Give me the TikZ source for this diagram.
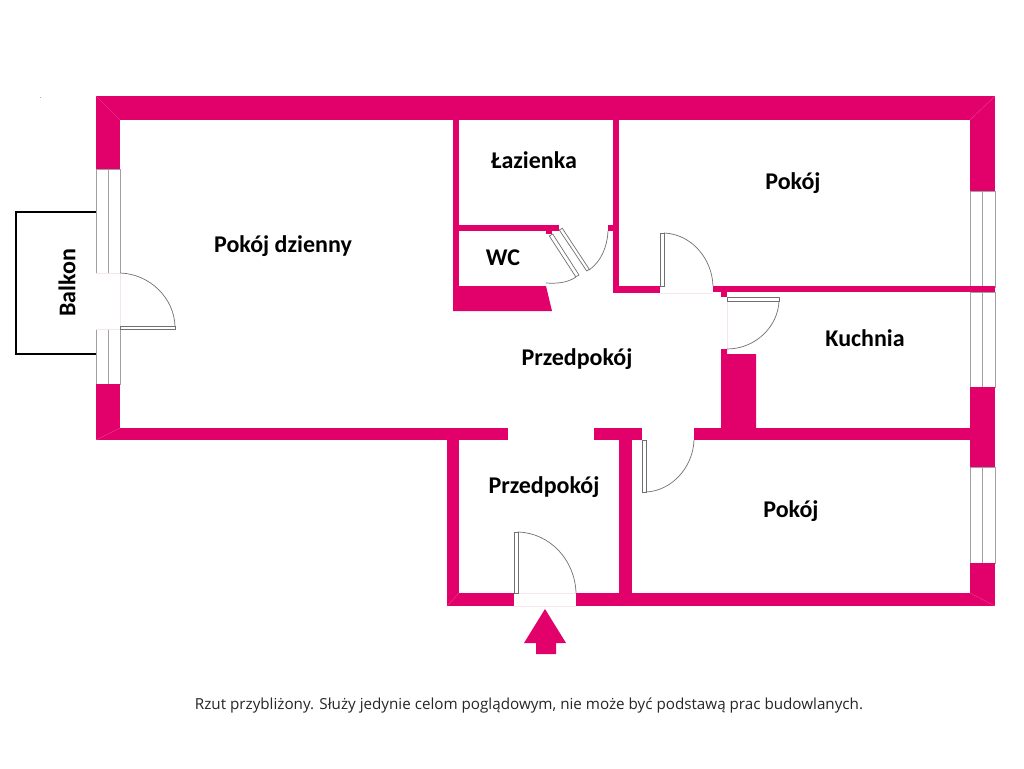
\documentclass[tikz,border=0pt]{standalone}
\usepackage{fontspec}
\setmainfont{Carlito}
\newfontfamily\capfont{Open Sans}
\definecolor{wallc}{HTML}{E2006A}
\definecolor{mitre}{HTML}{EE4A92}
\definecolor{winc}{HTML}{A0A0A0}
\definecolor{doorc}{HTML}{707070}
\definecolor{sillc}{HTML}{F3E6EC}
\tikzset{
  wall/.style={fill=wallc,draw=none},
  mitreline/.style={draw=mitre,line width=0.3pt},
  winline/.style={draw=winc,line width=1pt},
  doorline/.style={draw=doorc,line width=0.7pt,fill=white},
  swing/.style={draw=doorc,line width=0.7pt},
  sill/.style={draw=sillc,line width=0.5pt},
  balc/.style={draw=black,line width=2pt,line cap=round,line join=miter},
  room/.style={font=\fontsize{24}{28}\selectfont\bfseries,text=black,inner sep=0pt},
  capt/.style={font=\capfont\fontsize{15.2}{18}\selectfont,text=black!85,inner sep=0pt}
}
\begin{document}
\begin{tikzpicture}[x=1pt,y=-1pt]
\useasboundingbox (0,0) rectangle (1024,768);
\fill[white] (0,0) rectangle (1024,768);
% speck
\fill[gray] (40.5,97.5) circle (0.4);
% balcony
\draw[balc] (96,212) -- (16,212) -- (16,354) -- (96,354);
% windows
\foreach \xa/\ya/\xb/\yb in {96/169/120/273, 96/329/120/384, 970/191/995/287, 970/292/995/387, 970/467/995/563}{
  \draw[winline] (\xa,\ya) rectangle (\xb,\yb);
  \draw[winline] ({(\xa+\xb)/2},\ya) -- ({(\xa+\xb)/2},\yb);
}
% walls
\fill[wall] (96,96) rectangle (995,120);
\fill[wall] (96,96) rectangle (120,169);
\fill[wall] (96,384) rectangle (120,440);
\fill[wall] (96,428) rectangle (508,440);
\fill[wall] (970,96) rectangle (995,191);
\fill[wall] (970,387) rectangle (995,467);
\fill[wall] (970,563) rectangle (995,606);
\fill[wall] (713,286) rectangle (995,292);
\fill[wall] (447,428) rectangle (459,606);
\fill[wall] (447,593) rectangle (514,606);
\fill[wall] (576,593) rectangle (995,606);
\fill[wall] (619,428) rectangle (632,595);
\fill[wall] (594,428) rectangle (642,440);
\fill[wall] (694,428) rectangle (970,440);
\fill[wall] (453,120) rectangle (459,311);
\fill[wall] (453,225) rectangle (559,231);
\fill[wall] (546,231) rectangle (552,234);
\fill[wall] (453,286) -- (546,286) -- (552,311) -- (453,311) -- cycle;
\fill[wall] (613,120) rectangle (619,293);
\fill[wall] (608,225) rectangle (613,231);
\fill[wall] (613,286) rectangle (660,293);
\fill[wall] (721,292) rectangle (727,297);
\fill[wall] (721,349) -- (727,349) -- (727,354) -- (756,354) -- (756,428) -- (721,428) -- cycle;
% mitres
\draw[mitreline] (96,96) -- (120,120);
\draw[mitreline] (995,96) -- (970,120);
\draw[mitreline] (96,440) -- (120,428);
\draw[mitreline] (995,606) -- (970,593);
\draw[mitreline] (447,606) -- (459,593);
% faint sills
\draw[sill] (96,273) -- (120,273) -- (120,329) -- (96,329);
\draw[sill] (660,293) -- (713,293);
\draw[sill] (727,297) -- (727,349);
\draw[sill] (514,593) -- (576,593);
\draw[sill] (514,606) -- (576,606);
% doors: left
\draw[doorline] (120,326) rectangle (175,329);
\draw[swing] (120,273) .. controls (150,274) and (174,298) .. (175,326);
% top room
\draw[doorline] (660,233) rectangle (664,286);
\draw[swing] (664,233) .. controls (691,234) and (712,258) .. (713,286);
% kitchen
\draw[doorline] (727,297) rectangle (779,301);
\draw[swing] (779,301) .. controls (778,327) and (755,349) .. (727,349);
% entrance
\draw[doorline] (514,532) rectangle (518,593);
\draw[swing] (518,532) .. controls (550,533) and (575,560) .. (576,593);
% lower room
\draw[doorline] (642,440) rectangle (646,492);
\draw[swing] (646,492) .. controls (671,491) and (693,468) .. (694,440);
% WC door
\draw[doorline] (549.3,236) -- (552.7,234) -- (579,275) -- (575.7,276.7) -- cycle;
\draw[swing] (576,277) .. controls (567,283) and (556.7,283.7) .. (546,283);
% bathroom door
\draw[doorline] (559.3,230) -- (562.3,228.3) -- (589.3,269.3) -- (586.7,271) -- cycle;
\draw[swing] (608,231) .. controls (607.4,246) and (601.4,261.5) .. (589,270);
% entry arrow
\fill[wall] (545,609) -- (566,643) -- (556,643) -- (556,654) -- (536,654) -- (536,643) -- (524,643) -- cycle;
% labels
\node[room] (dzienny) at (283,246) {Pokój dzienny};
\node[room] (lazienka) at (534,160) {Łazienka};
\node[room] (pokoja) at (793,183) {Pokój};
\node[room] (wc) at (503,258) {WC};
\node[room] (kuchnia) at (865,338) {Kuchnia};
\node[room] (przeda) at (577,359) {Przedpokój};
\node[room] (przedb) at (544,487) {Przedpokój};
\node[room] (pokojb) at (791,511) {Pokój};
\node[room,rotate=90] (balkon) at (67,283) {Balkon};
\node[capt] (caption) at (529,705) {Rzut przybliżony. Służy jedynie celom poglądowym, nie może być podstawą prac budowlanych.};
\end{tikzpicture}
\end{document}
